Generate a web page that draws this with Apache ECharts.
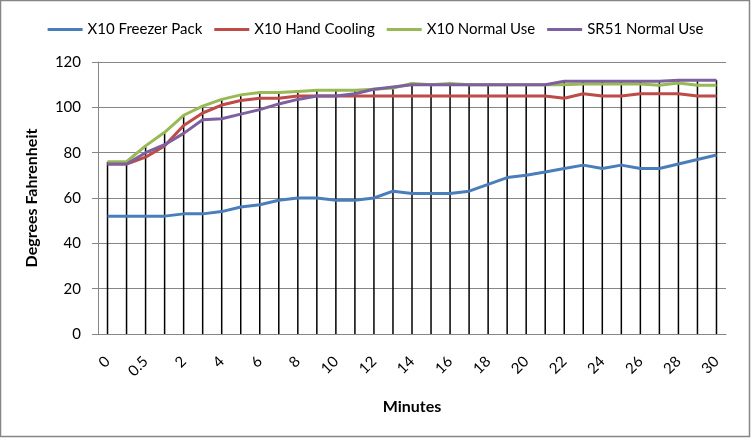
<!DOCTYPE html>
<html>
<head>
<meta charset="utf-8">
<script src="https://cdn.jsdelivr.net/npm/echarts@6/dist/echarts.min.js"></script>
<style>
html,body{margin:0;padding:0;background:#fff;}
#chart{width:751px;height:438px;}
</style>
</head>
<body>
<div id="chart"></div>
<script>
// Category labels (minutes)
var categories = ['0','0.25','0.5','1','2','3','4','5','6','7','8','9','10','11','12','13','14','15','16','17','18','19','20','21','22','23','24','25','26','27','28','29','30'];

var seriesNames = ['X10 Freezer Pack','X10 Hand Cooling','X10 Normal Use','SR51 Normal Use'];

var freezerPack = [52,52,52,52,53,53,54,56,57,59,60,60,59,59,60,63,62,
                   62,62,63,66,69,70,71.5,73,74.5,73,74.5,73,73,75,77,79];
var handCooling = [75,75,78,83,92,97.5,101,103,104,104,105,105,105,105,105,105,105,
                   105,105,105,105,105,105,105,104,106,105,105,106,106,106,105,105];
var x10Normal   = [76,76,83,89,96.5,100.5,103.5,105.5,106.5,106.5,107,107.5,107.5,107.5,108,108.5,110.5,
                   110,110.5,110,110,110,110,110,110,110.3,110.3,110.3,110.3,109.7,110.7,109.7,109.7];
var sr51Normal  = [75,75,80,83.5,88.5,94.5,95,97,99,101.5,103.5,105,105,106,108,109,110,
                   110,110,110,110,110,110,110,111.5,111.5,111.5,111.5,111.5,111.5,112,112,112];

var yTicks = [0,20,40,60,80,100,120];

var colors = ['#4A7EBB','#BE4B48','#98B954','#7D60A0'];

// drop lines: from the highest series value at each category down to the axis
var dropLines = categories.map(function(_, i){
  return Math.max(freezerPack[i], handCooling[i], x10Normal[i], sr51Normal[i]);
});

var FONT = 'Lato';
var chart = echarts.init(document.getElementById('chart'), null, {renderer:'canvas'});
var allData = [freezerPack, handCooling, x10Normal, sr51Normal];

var series = [{
  name: 'drop',
  type: 'bar',
  data: dropLines,
  barWidth: 1.5,
  itemStyle: {color: '#000'},
  silent: true,
  z: 1,
  emphasis: {disabled: true}
}];
seriesNames.forEach(function(n, k){
  series.push({
    name: n,
    type: 'line',
    data: allData[k],
    symbol: 'none',
    smooth: false,
    lineStyle: {width: 3, color: colors[k]},
    itemStyle: {color: colors[k]},
    z: 2 + k,
    emphasis: {disabled: true}
  });
});

chart.setOption({
  animation: false,
  backgroundColor: '#fff',
  textStyle: {fontFamily: FONT},
  legend: {
    data: seriesNames,
    left: 'center',
    top: 17,
    icon: 'rect',
    itemWidth: 35,
    itemHeight: 3,
    itemGap: 12,
    textStyle: {fontFamily: FONT, fontSize: 15, color: '#000'}
  },
  grid: {left: 98, right: 25, top: 62, bottom: 104},
  xAxis: {
    type: 'category',
    data: categories,
    boundaryGap: true,
    name: 'Minutes',
    nameLocation: 'middle',
    nameGap: 65,
    nameTextStyle: {fontFamily: FONT, fontSize: 16, fontWeight: 'bold', color: '#000'},
    axisLine: {show: true, lineStyle: {color: '#868686', width: 1}},
    axisTick: {show: false},
    axisLabel: {interval: 1, rotate: 45, margin: 25, fontFamily: FONT, fontSize: 15, color: '#000'},
    splitLine: {show: false}
  },
  yAxis: {
    type: 'value',
    min: yTicks[0],
    max: yTicks[yTicks.length - 1],
    interval: 20,
    name: 'Degrees Fahrenheit',
    nameLocation: 'middle',
    nameGap: 58,
    nameRotate: 90,
    nameTextStyle: {fontFamily: FONT, fontSize: 16, fontWeight: 'bold', color: '#000'},
    axisLine: {show: true, lineStyle: {color: '#868686', width: 1}},
    axisTick: {show: true, length: 6, lineStyle: {color: '#868686'}},
    axisLabel: {margin: 17, fontFamily: FONT, fontSize: 15, color: '#000'},
    splitLine: {show: true, lineStyle: {color: '#868686', width: 1}}
  },
  graphic: [{
    type: 'rect',
    shape: {x: 0.5, y: 0.5, width: 749, height: 436},
    style: {fill: 'none', stroke: '#868686', lineWidth: 1.5},
    silent: true,
    z: 100
  }],
  series: series
});
</script>
</body>
</html>
